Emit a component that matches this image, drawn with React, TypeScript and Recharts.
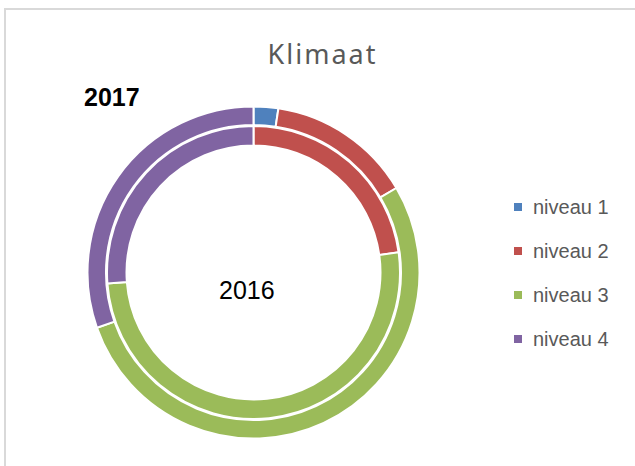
import { PieChart, Pie, Cell, Legend } from "recharts";

const LEVELS = ["niveau 1", "niveau 2", "niveau 3", "niveau 4"];
const COLORS = ["#4f81bd", "#c0504d", "#9bbb59", "#8064a2"];
const VALUES_2017 = [2.4, 14.1, 53.1, 30.4];
const VALUES_2016 = [0, 22.8, 51.0, 26.2];

const data2017 = LEVELS.map((name, i) => ({ name, value: VALUES_2017[i] }));
const data2016 = LEVELS.map((name, i) => ({ name, value: VALUES_2016[i] }));

const FONT = "'Liberation Sans', Arial, sans-serif";

function LegendBox() {
  return (
    <div style={{ fontFamily: FONT }}>
      {LEVELS.map((name, i) => (
        <div
          key={name}
          style={{ display: "flex", alignItems: "center", height: 44 }}
        >
          <span
            style={{
              width: 8,
              height: 8,
              background: COLORS[i],
              display: "inline-block",
              marginRight: 11,
            }}
          />
          <span style={{ fontSize: 20, color: "#595959" }}>{name}</span>
        </div>
      ))}
    </div>
  );
}

export default function App() {
  return (
    <div
      style={{
        position: "fixed",
        left: 0,
        top: 0,
        width: 635,
        height: 466,
        overflow: "hidden",
        background: "#fff",
      }}
    >
      {/* chart area frame: only top and left edges are in view */}
      <div
        style={{
          position: "absolute",
          left: 4,
          top: 8,
          width: 631,
          height: 2,
          background: "#d9d9d9",
        }}
      />
      <div
        style={{
          position: "absolute",
          left: 4,
          top: 8,
          width: 2,
          height: 458,
          background: "#d9d9d9",
        }}
      />
      <div
        style={{
          position: "absolute",
          left: 0,
          top: 35,
          width: 645,
          textAlign: "center",
          fontFamily: "'Noto Sans', sans-serif",
          fontSize: 27,
          letterSpacing: 2,
          color: "#595959",
        }}
      >
        Klimaat
      </div>
      <div
        style={{
          position: "absolute",
          left: 84,
          top: 83,
          fontFamily: FONT,
          fontWeight: "bold",
          fontSize: 25,
          color: "#000",
        }}
      >
        2017
      </div>
      <div
        style={{
          position: "absolute",
          left: 219,
          top: 276,
          fontFamily: FONT,
          fontSize: 25,
          color: "#000",
        }}
      >
        2016
      </div>
      <PieChart
        width={635}
        height={466}
        margin={{ top: 0, right: 0, bottom: 0, left: 0 }}
        style={{ position: "absolute", left: 0, top: 0 }}
      >
        <Pie
          data={data2016}
          dataKey="value"
          cx={253.5}
          cy={272.5}
          innerRadius={127}
          outerRadius={146.5}
          startAngle={90}
          endAngle={-270}
          stroke="#fff"
          strokeWidth={2}
          isAnimationActive={false}
        >
          {data2016.map((_, i) => (
            <Cell key={`in-${i}`} fill={COLORS[i]} />
          ))}
        </Pie>
        <Pie
          data={data2017}
          dataKey="value"
          cx={253.5}
          cy={272.5}
          innerRadius={147.5}
          outerRadius={166}
          startAngle={90}
          endAngle={-270}
          stroke="#fff"
          strokeWidth={2}
          isAnimationActive={false}
        >
          {data2017.map((_, i) => (
            <Cell key={`out-${i}`} fill={COLORS[i]} />
          ))}
        </Pie>
        <Legend
          layout="vertical"
          align="right"
          verticalAlign="top"
          content={() => <LegendBox />}
          wrapperStyle={{ left: 514, top: 185, width: 120 }}
        />
      </PieChart>
    </div>
  );
}
